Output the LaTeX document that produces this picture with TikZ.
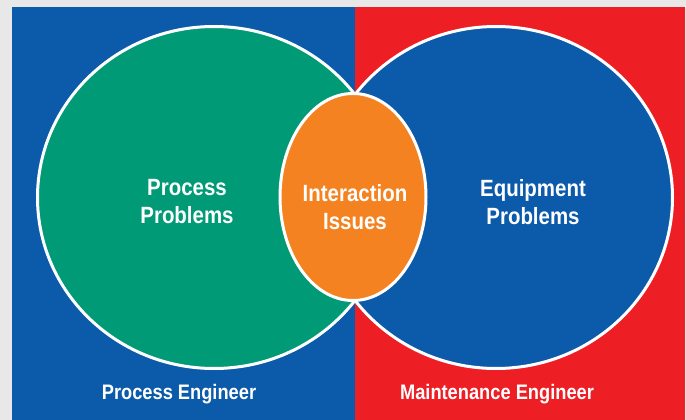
\documentclass[tikz,border=0pt]{standalone}
\usepackage{fontspec}
\newfontfamily\vennfont{Liberation Sans}[FakeStretch=0.87]
\usepackage{tikz}
\usetikzlibrary{shapes.geometric, positioning}
\definecolor{backgrey}{RGB}{232,232,232}
\definecolor{engblue}{RGB}{12,90,170}
\definecolor{engred}{RGB}{237,30,36}
\definecolor{procgreen}{RGB}{0,155,118}
\definecolor{issorange}{RGB}{245,130,32}
\tikzstyle{venn} = [ellipse, draw=white, line width=3pt, inner sep=0pt]
\tikzstyle{inlabel} = [align=center, text=white, inner sep=0pt, font=\vennfont\bfseries\fontsize{23.5}{28}\selectfont]
\tikzstyle{rolelabel} = [anchor=base, text=white, inner sep=0pt, font=\vennfont\bfseries\fontsize{21}{24}\selectfont]

\begin{document}
\begin{tikzpicture}[x=1pt, y=-1pt]
	\useasboundingbox (0,0) rectangle (686,420);
	\fill[backgrey] (0,0) rectangle (686,420);
	\fill[engblue] (12,7) rectangle (355,420);
	\fill[engred] (355,7) rectangle (685,420);
	% the three sets
	\node (procset) [venn, fill=procgreen, minimum width=353pt, minimum height=342pt] at (214,197.5) {};
	\node (equipset) [venn, fill=engblue, minimum width=353pt, minimum height=342pt] at (496,197.5) {};
	\node (interset) [venn, fill=issorange, minimum width=146pt, minimum height=207pt] at (353,197) {};
	\node (procprob) [inlabel] at (187,202) {Process\\Problems};
	\node (interiss) [inlabel] at (355,207) {Interaction\\Issues};
	\node (equipprob) [inlabel] at (533,202) {Equipment\\Problems};
	% who owns each side
	\node (proceng) [rolelabel] at (179,399) {Process Engineer};
	\node (mainteng) [rolelabel] at (497,399) {Maintenance Engineer};
\end{tikzpicture}
\end{document}
